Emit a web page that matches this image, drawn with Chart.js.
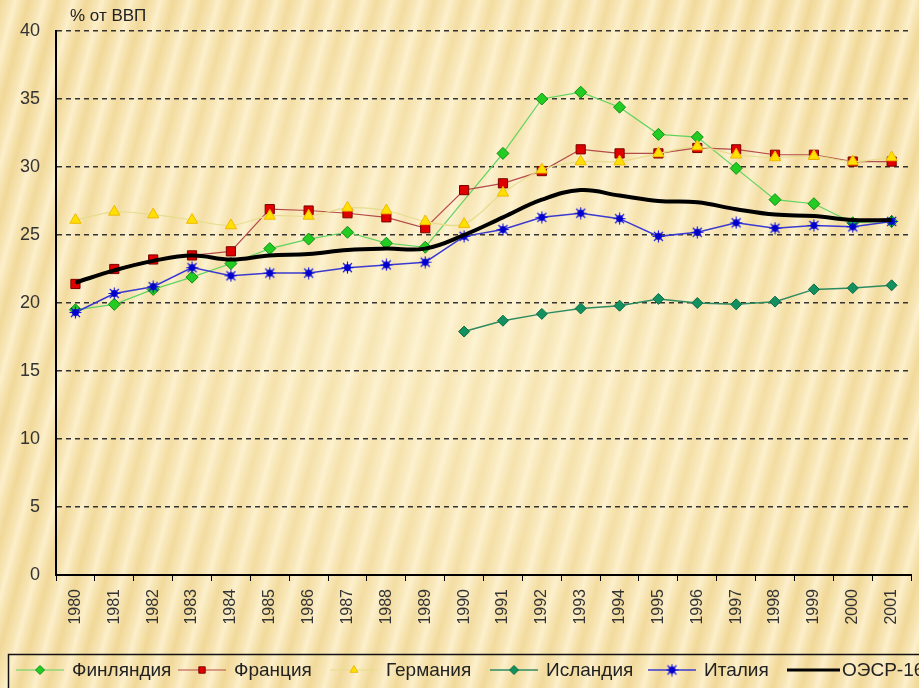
<!DOCTYPE html>
<html>
<head>
<meta charset="utf-8">
<script src="https://cdn.jsdelivr.net/npm/chart.js@4.4.0/dist/chart.umd.min.js"></script>
<style>
  html, body { margin: 0; padding: 0; }
  body {
    width: 919px; height: 688px; overflow: hidden;
    background:
      radial-gradient(ellipse at 50% 45%, rgba(255,248,220,0.5) 0%, rgba(255,248,220,0) 75%),
      repeating-linear-gradient(105deg, #f1d898 0px, #f7e5b4 10px, #fcefcb 15px, #f7e5b4 20px, #f1d898 28px);
  }
  #wrap { position: relative; width: 919px; height: 688px; }
</style>
</head>
<body>
<div id="wrap"><canvas id="myChart" width="919" height="688"></canvas></div>
<script>
var years = ['1980','1981','1982','1983','1984','1985','1986','1987','1988','1989','1990',
             '1991','1992','1993','1994','1995','1996','1997','1998','1999','2000','2001'];

var finland = [19.5,19.9,21.0,21.9,22.9,24.0,24.7,25.2,24.4,24.1,null,
               31.0,35.0,35.5,34.4,32.4,32.2,29.9,27.6,27.3,25.9,26.0];
var france  = [21.4,22.5,23.2,23.5,23.8,26.9,26.8,26.6,26.3,25.5,28.3,
               28.8,29.7,31.3,31.0,31.0,31.4,31.3,30.9,30.9,30.4,30.4];
var germany = [26.1,26.7,26.5,26.1,25.7,26.4,26.4,27.0,26.8,26.0,25.8,
               28.1,29.8,30.4,30.4,31.0,31.5,30.9,30.7,30.8,30.4,30.7];
var iceland = [null,null,null,null,null,null,null,null,null,null,17.9,
               18.7,19.2,19.6,19.8,20.3,20.0,19.9,20.1,21.0,21.1,21.3];
var italy   = [19.3,20.7,21.2,22.6,22.0,22.2,22.2,22.6,22.8,23.0,24.9,
               25.4,26.3,26.6,26.2,24.9,25.2,25.9,25.5,25.7,25.6,26.0];
var oecd    = [21.5,22.4,23.1,23.5,23.2,23.5,23.6,23.9,24.0,24.0,25.0,
               26.3,27.6,28.3,27.9,27.5,27.4,26.9,26.5,26.4,26.1,26.1];

var seriesNames = ['Финляндия','Франция','Германия','Исландия','Италия','ОЭСР-16'];
var yTicks = [0,5,10,15,20,25,30,35,40];
var axisTitle = '% от ВВП';

var FONT = '"Liberation Sans", Arial, sans-serif';
// where each legend entry starts (line sample, then text)
var legendX = [16, 178, 330, 490, 648, 787];

// Italy marker: asterisk with a dot in the middle (Excel style)
function starMarker(){
    var c = document.createElement('canvas');
    c.width = 13; c.height = 13;
    var g = c.getContext('2d');
    g.strokeStyle = '#1010e0';
    g.lineWidth = 1.1;
    g.beginPath();
    g.moveTo(6.5,0.5); g.lineTo(6.5,12.5);
    g.moveTo(0.5,6.5); g.lineTo(12.5,6.5);
    g.moveTo(2,2); g.lineTo(11,11);
    g.moveTo(11,2); g.lineTo(2,11);
    g.stroke();
    g.fillStyle = '#0000cc';
    g.beginPath(); g.arc(6.5,6.5,3.4,0,Math.PI*2); g.fill();
    return c;
}
var italyStar = starMarker();

var datasets = [
    { label: seriesNames[0], data: finland, order: 5, spanGaps: true,
      borderColor: '#5fd35f', borderWidth: 1.2, tension: 0,
      pointStyle: 'rectRot', pointRadius: 6, pointBackgroundColor: '#22cc22', pointBorderColor: '#138a13', pointBorderWidth: 1 },
    { label: seriesNames[1], data: france, order: 4,
      borderColor: '#b44a4a', borderWidth: 1.2, tension: 0,
      pointStyle: 'rect', pointRadius: 6.5, pointBackgroundColor: '#e00000', pointBorderColor: '#7a0000', pointBorderWidth: 1 },
    { label: seriesNames[2], data: germany, order: 3,
      borderColor: '#e6dc8c', borderWidth: 1.2, tension: 0.3,
      pointStyle: 'triangle', pointRadius: 6.5, pointBackgroundColor: '#ffe000', pointBorderColor: '#f0b800', pointBorderWidth: 1 },
    { label: seriesNames[3], data: iceland, order: 2,
      borderColor: '#2e8b60', borderWidth: 1.5, tension: 0,
      pointStyle: 'rectRot', pointRadius: 5.5, pointBackgroundColor: '#129060', pointBorderColor: '#0b6a45', pointBorderWidth: 1 },
    { label: seriesNames[4], data: italy, order: 1,
      borderColor: '#3a3ad0', borderWidth: 1.5, tension: 0,
      pointStyle: italyStar, pointRadius: 6 },
    { label: seriesNames[5], data: oecd, order: 0,
      borderColor: '#000000', borderWidth: 4, tension: 0.4,
      pointRadius: 0 }
];

var extras = {
    id: 'extras',
    afterDraw: function(chart){
        var ctx = chart.ctx;
        ctx.save();
        // axis title
        ctx.fillStyle = '#222';
        ctx.font = '17px ' + FONT;
        ctx.textBaseline = 'middle';
        ctx.textAlign = 'left';
        ctx.fillText(axisTitle, 70, 16);

        // legend box
        ctx.strokeStyle = '#111';
        ctx.lineWidth = 1.5;
        ctx.strokeRect(8.5, 654.5, 1000, 60);

        var y = 670;
        ctx.font = '19px ' + FONT;
        chart.data.datasets.forEach(function(ds, i){
            var x = legendX[i];
            var last = i === chart.data.datasets.length - 1;
            var len = last ? 53 : 48;
            ctx.strokeStyle = ds.borderColor;
            ctx.lineWidth = Math.min(ds.borderWidth, 3);
            ctx.beginPath();
            ctx.moveTo(x, y); ctx.lineTo(x + len, y);
            ctx.stroke();
            if (ds.pointRadius > 0) {
                ctx.fillStyle = ds.pointBackgroundColor || '#000';
                ctx.strokeStyle = ds.pointBorderColor || ds.borderColor;
                ctx.lineWidth = 1;
                Chart.helpers.drawPoint(ctx, {pointStyle: ds.pointStyle, radius: 4.5, rotation: 0, borderWidth: 1}, x + 24, y);
            }
            ctx.fillStyle = '#222';
            ctx.fillText(ds.label, x + (last ? 55 : 56), y + 1);
        });
        ctx.restore();
    }
};

var ctx = document.getElementById('myChart').getContext('2d');
var myChart = new Chart(ctx, {
    type: 'line',
    data: { labels: years, datasets: datasets },
    options: {
        responsive: false,
        animation: false,
        layout: { padding: { top: 31, right: 2, left: 0, bottom: 0 } },
        plugins: {
            legend: { display: false },
            tooltip: { enabled: false }
        },
        scales: {
            x: {
                offset: true,
                grid: { display: true, drawOnChartArea: false, drawTicks: true, tickLength: 6, offset: true, color: '#000', lineWidth: 1 },
                border: { display: true, color: '#000', width: 2 },
                ticks: { minRotation: 90, maxRotation: 90, padding: 8, color: '#333', font: { family: FONT, size: 16 } },
                afterFit: function(scale){ scale.height = 113; }
            },
            y: {
                min: 0, max: 40,
                afterBuildTicks: function(scale){ scale.ticks = yTicks.map(function(v){ return {value: v}; }); },
                grid: { color: '#333', lineWidth: 1.5, drawTicks: false },
                border: { display: true, color: '#000', width: 2, dash: [5,4] },
                ticks: { padding: 16, color: '#333', font: { family: FONT, size: 18 } },
                afterFit: function(scale){ scale.width = 56; }
            }
        }
    },
    plugins: [extras]
});
</script>
</body>
</html>
